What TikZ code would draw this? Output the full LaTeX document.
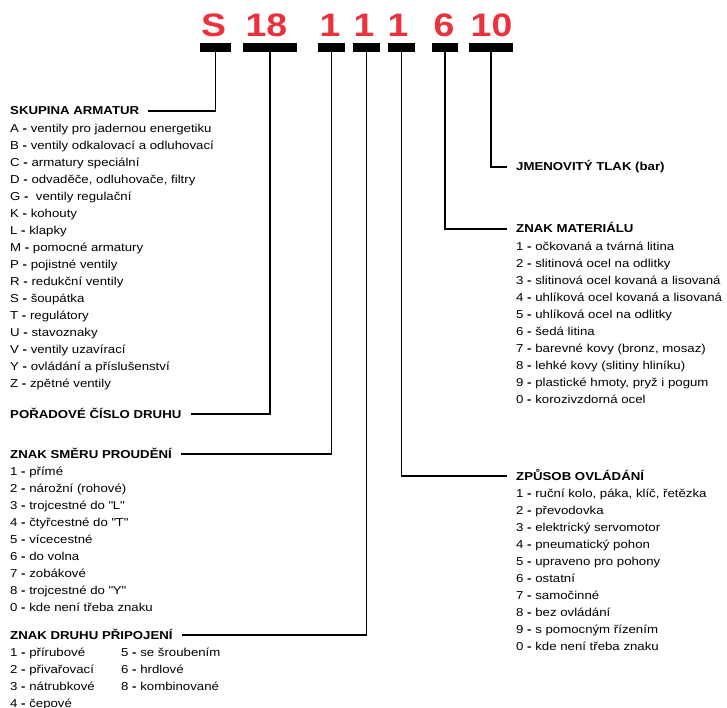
\documentclass[tikz,border=0pt]{standalone}
\usepackage{fontspec}
\setmainfont{Liberation Sans}[FakeStretch=1.15]
\definecolor{codered}{RGB}{235,50,60}
\newcommand{\pom}{\textbf{-}}
\newcommand{\uv}[1]{\textquotedbl#1\textquotedbl}

\begin{document}
\begin{tikzpicture}[x=1pt,y=-1pt,
  code/.style={text=codered,font=\fontsize{32.5}{36}\selectfont\bfseries,inner sep=0,anchor=base},
  bar/.style={fill=black,inner sep=0,minimum height=9pt},
  head/.style={font=\fontsize{11.5}{17}\selectfont\bfseries,inner sep=0,text height=8.5pt,text depth=0pt,anchor=base west},
  list/.style={font=\fontsize{11.5}{17}\selectfont,inner sep=0,align=left,anchor=base west},
  link/.style={line width=1.8pt,shorten >=9pt}]

\useasboundingbox (0,0) rectangle (727,708);

% the code
\node [code] (cS) at (213.5,37) {S};
\node [code] (c18) at (266.5,37) {18};
\node [code] (cSmer) at (330,37) {1};
\node [code] (cPripoj) at (364,37) {1};
\node [code] (cOvl) at (398,37) {1};
\node [code] (cMat) at (444,37) {6};
\node [code] (cTlak) at (491.5,37) {10};

\node [bar,minimum width=31pt] (bS) at (215.5,47.5) {};
\node [bar,minimum width=54pt] (b18) at (270,47.5) {};
\node [bar,minimum width=27pt] (bSmer) at (331.5,47.5) {};
\node [bar,minimum width=27pt] (bPripoj) at (366.5,47.5) {};
\node [bar,minimum width=27pt] (bOvl) at (401.5,47.5) {};
\node [bar,minimum width=26pt] (bMat) at (445,47.5) {};
\node [bar,minimum width=44pt] (bTlak) at (491,47.5) {};

% left side (list nodes sit on the baseline of their last line)
\node [head] (hSkupina) at (10,115) {SKUPINA ARMATUR};
\node [list] (lSkupina) at (10,387) {A \pom{} ventily pro jadernou energetiku\\
B \pom{} ventily odkalovací a odluhovací\\
C \pom{} armatury speciální\\
D \pom{} odvaděče, odluhovače, filtry\\
G \pom{}\ \ ventily regulační\\
K \pom{} kohouty\\
L \pom{} klapky\\
M \pom{} pomocné armatury\\
P \pom{} pojistné ventily\\
R \pom{} redukční ventily\\
S \pom{} šoupátka\\
T \pom{} regulátory\\
U \pom{} stavoznaky\\
V \pom{} ventily uzavírací\\
Y \pom{} ovládání a příslušenství\\
Z \pom{} zpětné ventily};

\node [head] (hPoradi) at (10,418) {POŘADOVÉ ČÍSLO DRUHU};

\node [head] (hSmer) at (10,458) {ZNAK SMĚRU PROUDĚNÍ};
\node [list] (lSmer) at (10,611) {1 \pom{} přímé\\
2 \pom{} nárožní (rohové)\\
3 \pom{} trojcestné do \uv{L}\\
4 \pom{} čtyřcestné do \uv{T}\\
5 \pom{} vícecestné\\
6 \pom{} do volna\\
7 \pom{} zobákové\\
8 \pom{} trojcestné do \uv{Y}\\
0 \pom{} kde není třeba znaku};

\node [head] (hPripoj) at (10,639) {ZNAK DRUHU PŘIPOJENÍ};
\node [list] (lPripojA) at (10,707) {1 \pom{} přírubové\\
2 \pom{} přivařovací\\
3 \pom{} nátrubkové\\
4 \pom{} čepové};
\node [list] (lPripojB) at (121,690) {5 \pom{} se šroubením\\
6 \pom{} hrdlové\\
8 \pom{} kombinované};

% right side
\node [head] (hTlak) at (516,171) {JMENOVITÝ TLAK (bar)};

\node [head] (hMat) at (516,233) {ZNAK MATERIÁLU};
\node [list] (lMat) at (516,403) {1 \pom{} očkovaná a tvárná litina\\
2 \pom{} slitinová ocel na odlitky\\
3 \pom{} slitinová ocel kovaná a lisovaná\\
4 \pom{} uhlíková ocel kovaná a lisovaná\\
5 \pom{} uhlíková ocel na odlitky\\
6 \pom{} šedá litina\\
7 \pom{} barevné kovy (bronz, mosaz)\\
8 \pom{} lehké kovy (slitiny hliníku)\\
9 \pom{} plastické hmoty, pryž i pogum\\
0 \pom{} korozivzdorná ocel};

\node [head] (hOvl) at (516,480) {ZPŮSOB OVLÁDÁNÍ};
\node [list] (lOvl) at (516,650) {1 \pom{} ruční kolo, páka, klíč, řetězka\\
2 \pom{} převodovka\\
3 \pom{} elektrický servomotor\\
4 \pom{} pneumatický pohon\\
5 \pom{} upraveno pro pohony\\
6 \pom{} ostatní\\
7 \pom{} samočinné\\
8 \pom{} bez ovládání\\
9 \pom{} s pomocným řízením\\
0 \pom{} kde není třeba znaku};

% connectors
\draw [link] (bS.south) |- (hSkupina.east);
\draw [link] (b18.south) |- (hPoradi.east);
\draw [link] (bSmer.south) |- (hSmer.east);
\draw [link] (bPripoj.south) |- (hPripoj.east);
\draw [link] (bOvl.south) |- (hOvl.west);
\draw [link] (bMat.south) |- (hMat.west);
\draw [link] (bTlak.south) |- (hTlak.west);

\end{tikzpicture}
\end{document}
